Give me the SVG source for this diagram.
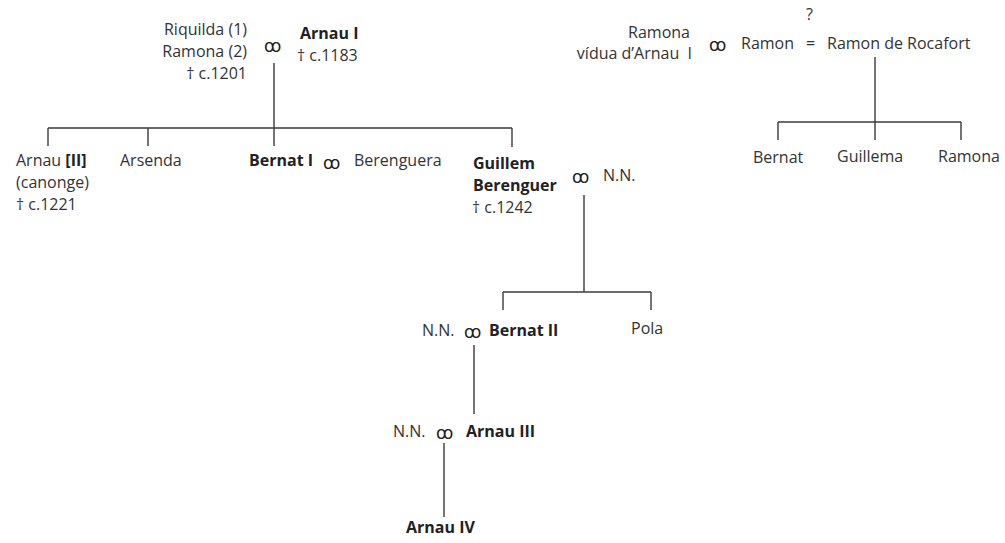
<svg xmlns="http://www.w3.org/2000/svg" width="1005" height="543" viewBox="0 0 1005 543">
<style>
text{font-family:"Open Sans","Liberation Sans",sans-serif;font-size:16px;fill:#333}
.b{font-weight:bold;fill:#222}
.e{text-anchor:end}
.m{font-family:"DejaVu Sans",sans-serif;font-size:17px;fill:#222}
.c line{stroke:#3a3a3a;stroke-width:1.4}
</style>
<rect width="1005" height="543" fill="#fff"/>
<g class="c" id="connectors">
<line x1="274" y1="63" x2="274" y2="146"/>
<line x1="48" y1="128" x2="512" y2="128"/>
<line x1="48" y1="128" x2="48" y2="146"/>
<line x1="148" y1="128" x2="148" y2="146"/>
<line x1="512" y1="128" x2="512" y2="147"/>
<line x1="584" y1="195" x2="584" y2="292"/>
<line x1="503" y1="292" x2="651" y2="292"/>
<line x1="503" y1="292" x2="503" y2="310"/>
<line x1="651" y1="292" x2="651" y2="310"/>
<line x1="474" y1="345" x2="474" y2="414"/>
<line x1="444" y1="443" x2="444" y2="517"/>
<line x1="875" y1="57" x2="875" y2="140"/>
<line x1="778" y1="122" x2="961" y2="122"/>
<line x1="778" y1="122" x2="778" y2="140"/>
<line x1="961" y1="122" x2="961" y2="140"/>
</g>
<g id="n-riquilda"><text class="e" x="247" y="35">Riquilda (1)</text><text class="e" x="247" y="57">Ramona (2)</text><text class="e" x="247" y="79">† c.1201</text></g>
<g id="m1"><text class="m" x="264" y="52">ꝏ</text></g>
<g id="n-arnau1"><text class="b" x="300" y="39">Arnau I</text><text x="297" y="61">† c.1183</text></g>
<g id="n-arnau2"><text x="16" y="166">Arnau <tspan class="b">[II]</tspan></text><text x="16" y="188">(canonge)</text><text x="16" y="210">† c.1221</text></g>
<g id="n-arsenda"><text x="120" y="166">Arsenda</text></g>
<g id="n-bernat1"><text class="b" x="249" y="166">Bernat I</text></g>
<g id="m2"><text class="m" x="323" y="169">ꝏ</text></g>
<g id="n-berenguera"><text x="354" y="166">Berenguera</text></g>
<g id="n-guillem"><text class="b" x="473" y="169">Guillem</text><text class="b" x="473" y="191">Berenguer</text><text x="472" y="213">† c.1242</text></g>
<g id="m3"><text class="m" x="572" y="183">ꝏ</text><text x="603" y="181">N.N.</text></g>
<g id="n-nn1"><text x="422" y="336">N.N.</text><text class="m" x="464" y="338">ꝏ</text></g>
<g id="n-bernat2"><text class="b" x="489" y="336">Bernat II</text></g>
<g id="n-pola"><text x="631" y="334">Pola</text></g>
<g id="n-nn2"><text x="393" y="437">N.N.</text><text class="m" x="436" y="439">ꝏ</text></g>
<g id="n-arnau3"><text class="b" x="466" y="437">Arnau III</text></g>
<g id="n-arnau4"><text class="b" x="406" y="533">Arnau IV</text></g>
<g id="n-ramona"><text class="e" x="690" y="38">Ramona</text><text class="e" x="692" y="59">vídua d’Arnau&#160; I</text></g>
<g id="m4"><text class="m" x="709" y="51">ꝏ</text></g>
<g id="n-ramon"><text x="741" y="49">Ramon</text><text x="806" y="49">=</text><text x="806" y="20">?</text><text x="827" y="49">Ramon de Rocafort</text></g>
<g id="n-bernat"><text x="753" y="163">Bernat</text></g>
<g id="n-guillema"><text x="837" y="162">Guillema</text></g>
<g id="n-ramona2"><text x="938" y="162">Ramona</text></g>
</svg>
